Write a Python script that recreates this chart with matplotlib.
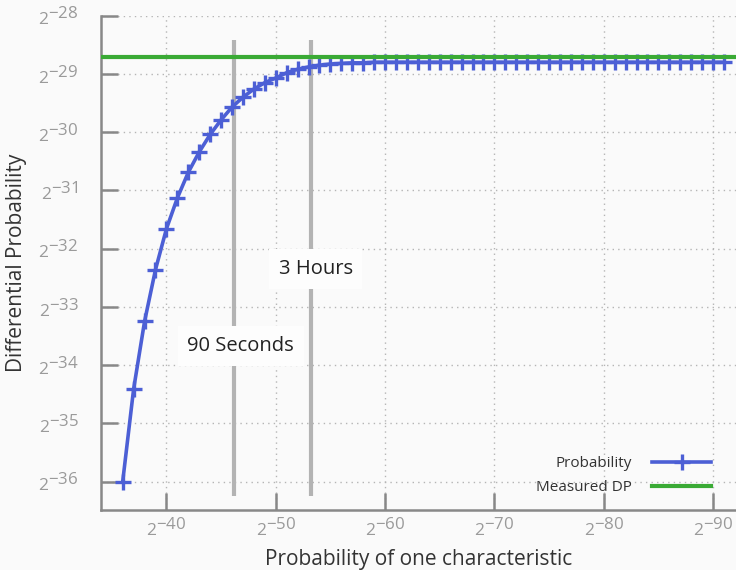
import matplotlib
matplotlib.use("Agg")
import matplotlib.pyplot as plt
import matplotlib._mathtext as _mt
from matplotlib.ticker import LogFormatterSciNotation, FixedLocator, NullLocator

plt.rcParams['font.family'] = ['Open Sans', 'DejaVu Sans']
plt.rcParams['mathtext.default'] = 'regular'
_mt.SHRINK_FACTOR = 0.97

# x: -log2 of probability of one characteristic
char_exp = [36, 37, 38, 39, 40, 41, 42, 43, 44, 45, 46, 47, 48, 49, 50, 51, 52, 53, 54, 55,
            56, 57, 58, 59, 60, 61, 62, 63, 64, 65, 66, 67, 68, 69, 70, 71, 72, 73, 74, 75,
            76, 77, 78, 79, 80, 81, 82, 83, 84, 85, 86, 87, 88, 89, 90, 91]
# y: log2 of differential probability
dp_exp = [-36.00, -34.41, -33.25, -32.36, -31.66, -31.13, -30.69, -30.34, -30.04, -29.79,
          -29.57, -29.40, -29.26, -29.15, -29.07, -28.98, -28.92, -28.88, -28.85, -28.83,
          -28.82, -28.81, -28.81, -28.80, -28.80, -28.80, -28.80, -28.80, -28.80, -28.80,
          -28.80, -28.80, -28.80, -28.80, -28.80, -28.80, -28.80, -28.80, -28.80, -28.80,
          -28.80, -28.80, -28.80, -28.80, -28.80, -28.80, -28.80, -28.80, -28.80, -28.80,
          -28.80, -28.80, -28.80, -28.80, -28.80, -28.80]
measured_dp_exp = -28.71
markers_x = [46.2, 53.2]
markers_text = ["90 Seconds", "3 Hours"]
markers_text_pos = [(46.8, -33.67), (53.65, -32.35)]
vline_range = (-36.25, -28.42)
x_ticks_exp = [40, 50, 60, 70, 80, 90]
y_ticks_exp = [-28, -29, -30, -31, -32, -33, -34, -35, -36]

bg = '#fafafa'
fig = plt.figure(figsize=(7.36, 5.70), dpi=100, facecolor=bg)
ax = fig.add_axes([0.137, 0.105, 0.863, 0.8675], facecolor=bg)

x = [2.0 ** (-k) for k in char_exp]
y = [2.0 ** e for e in dp_exp]

ax.set_xscale('log', base=2)
ax.set_yscale('log', base=2)

# vertical marker lines
for xm in markers_x:
    ax.plot([2.0 ** (-xm)] * 2, [2.0 ** vline_range[0], 2.0 ** vline_range[1]],
            color='#b3b3b3', lw=3, zorder=2, solid_capstyle='butt')
for t, (tx, ty) in zip(markers_text, markers_text_pos):
    ax.text(2.0 ** (-tx), 2.0 ** ty, t, ha='center', va='center', fontsize=14.5,
            color='#222222', zorder=3,
            bbox=dict(facecolor='#fdfdfd', edgecolor='none', pad=7))

ax.plot(x, y, color='#4c5fd5', lw=2.6, marker='+', markersize=11, mew=2.4,
        label='Probability', zorder=4)
ax.axhline(2.0 ** measured_dp_exp, color='#3aaa35', lw=3, label='Measured DP', zorder=4)

ax.set_xlim(2.0 ** -34, 2.0 ** -92.1)
ax.set_ylim(2.0 ** -36.49, 2.0 ** -28)

ax.xaxis.set_major_locator(FixedLocator([2.0 ** (-k) for k in x_ticks_exp]))
ax.yaxis.set_major_locator(FixedLocator([2.0 ** e for e in y_ticks_exp]))
ax.xaxis.set_minor_locator(NullLocator())
ax.yaxis.set_minor_locator(NullLocator())
ax.xaxis.set_major_formatter(LogFormatterSciNotation(base=2))
ax.yaxis.set_major_formatter(LogFormatterSciNotation(base=2))

for s in ['top', 'right']:
    ax.spines[s].set_visible(False)
for s in ['left', 'bottom']:
    ax.spines[s].set_color('#888888')
    ax.spines[s].set_linewidth(1.8)

ax.tick_params(axis='both', direction='in', length=12.5, width=1.8, color='#888888',
               labelcolor='#9a9a9a', labelsize=12.5)
ax.tick_params(axis='y', pad=16)
ax.tick_params(axis='x', pad=5)

ax.grid(True, linestyle=(0, (1, 3)), color='#b5b5b5', lw=1.0, zorder=0)

ax.set_xlabel('Probability of one characteristic', fontsize=15, color='#333333', labelpad=7)
ax.set_ylabel('Differential Probability', fontsize=15, color='#333333', labelpad=8)

leg = ax.legend(loc='lower right', bbox_to_anchor=(0.983, 0.002), frameon=False,
                markerfirst=False, numpoints=1, fontsize=11, handlelength=3.9,
                handletextpad=1.3, labelspacing=0.6)
for t in leg.get_texts():
    t.set_color('#333333')

fig.savefig('out.png', dpi=100, facecolor=bg)
